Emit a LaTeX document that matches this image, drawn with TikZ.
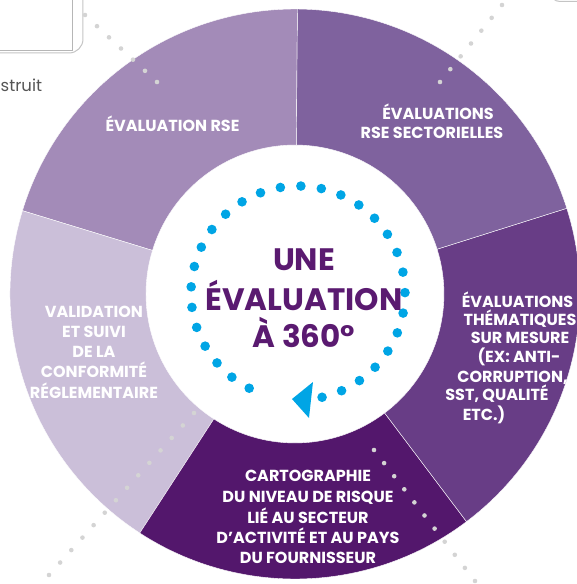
\documentclass[tikz,border=0pt]{standalone}
\usepackage{fontspec}
\setmainfont{Poppins}
\usetikzlibrary{calc}

\definecolor{segrse}{HTML}{A38BB8}
\definecolor{segsect}{HTML}{7F629E}
\definecolor{segthem}{HTML}{683D86}
\definecolor{segcarto}{HTML}{53176C}
\definecolor{segvalid}{HTML}{CBBFD9}
\definecolor{titlepurple}{HTML}{5A1A70}
\definecolor{ringblue}{HTML}{00A5E5}
\definecolor{dotgray}{HTML}{D4D4D4}
\definecolor{boxgray}{HTML}{C4C4C4}
\definecolor{textgray}{HTML}{555555}

\tikzset{
  segtext/.style={text=white, inner sep=0pt, anchor=base,
    font=\bfseries\fontsize{16}{20}\selectfont},
  titletext/.style={text=titlepurple, inner sep=0pt, anchor=base,
    font=\bfseries\fontsize{31}{38}\selectfont},
  greydot/.style={fill=dotgray},
}

% one ring sector: colour, start angle, end angle
\newcommand{\ringpart}[3]{%
  \fill[#1, draw=white, line width=0.4pt] (#2:149) -- (#2:285)
    arc[start angle=#2, end angle=#3, radius=285] -- (#3:149)
    arc[start angle=#3, end angle=#2, radius=149] -- cycle;}

\begin{document}
\begin{tikzpicture}[x=1pt, y=1pt]
	\useasboundingbox (-295,-290) rectangle (282,294);

	% frames cut by the border
	\draw[boxgray, line width=1pt, rounded corners=14pt] (-310,310) rectangle (-212,241);
	\draw[boxgray!80!gray, line width=0.8pt] (-310,310) rectangle (-223,244);
	\draw[boxgray, line width=1pt, rounded corners=10pt] (255,340) rectangle (310,292.5);
	\node[text=textgray, inner sep=0pt, anchor=base west, font=\fontsize{16.5}{20}\selectfont] (cut) at (-294.5,202) {struit};

	% the ring
	\ringpart{segrse}{89.5}{163}
	\ringpart{segvalid}{163}{237}
	\ringpart{segcarto}{237}{307}
	\ringpart{segthem}{-53}{17.5}
	\ringpart{segsect}{17.5}{89.5}

	% grey dotted leaders
	\coordinate (tla) at (-210,279);
	\coordinate (tlb) at (-138,212);
	\coordinate (tra) at (207,289);
	\coordinate (trb) at (145,212);
	\coordinate (bra) at (79,-156);
	\coordinate (brb) at (180,-287);
	\coordinate (bla) at (-101,-119);
	\coordinate (blb) at (-246,-281);
	\foreach \k in {0,...,6} \fill[greydot] ($(tla)!\k/6!(tlb)$) circle[radius=2.3];
	\foreach \k in {0,...,6} \fill[greydot] ($(tra)!\k/6!(trb)$) circle[radius=2.3];
	\foreach \k in {0,...,10} \fill[greydot] ($(bra)!\k/10!(brb)$) circle[radius=2.3];
	\foreach \k in {0,...,13} \fill[greydot] ($(bla)!\k/13!(blb)$) circle[radius=2.3];

	% blue dotted circle with arrow
	\coordinate (ring) at (3,1);
	\foreach \k in {0,...,29}
		\fill[ringblue] ($(ring)+(-77+11.03*\k:107)$) circle[radius=4.8];
	\fill[ringblue] (-3,-105) -- (18,-88) -- (14,-124) -- cycle;

	% centre title
	\node[titletext] (t1) at (9,24) {UNE};
	\node[titletext] (t2) at (9,-16) {ÉVALUATION};
	\node[titletext] (t3) at (9,-53) {À 360°};

	% sector labels
	\node[segtext] (rse) at (-122.5,162) {ÉVALUATION RSE};

	\node[segtext] (sec1) at (143,175) {ÉVALUATIONS};
	\node[segtext] (sec2) at (137,156) {RSE SECTORIELLES};

	\node[segtext] (them1) at (222.5,-13) {ÉVALUATIONS};
	\node[segtext] (them2) at (225,-31) {THÉMATIQUES};
	\node[segtext] (them3) at (225,-49) {SUR MESURE};
	\node[segtext] (them4) at (224,-68) {(EX: ANTI-};
	\node[segtext] (them5) at (217.5,-88) {CORRUPTION,};
	\node[segtext] (them6) at (202,-106) {SST, QUALITÉ};
	\node[segtext] (them7) at (189,-126) {ETC.)};

	\foreach \t/\y [count=\i] in {CARTOGRAPHIE/-187, DU NIVEAU DE RISQUE/-208,
		LIÉ AU SECTEUR/-229, D'ACTIVITÉ ET AU PAYS/-249, DU FOURNISSEUR/-269}
		\node[segtext] (carto\i) at (13,\y) {\t};

	\foreach \t/\y [count=\i] in {VALIDATION/-23, ET SUIVI/-43, DE LA/-63,
		CONFORMITÉ/-83, RÉGLEMENTAIRE/-104}
		\node[segtext] (valid\i) at (-201,\y) {\t};
\end{tikzpicture}
\end{document}
